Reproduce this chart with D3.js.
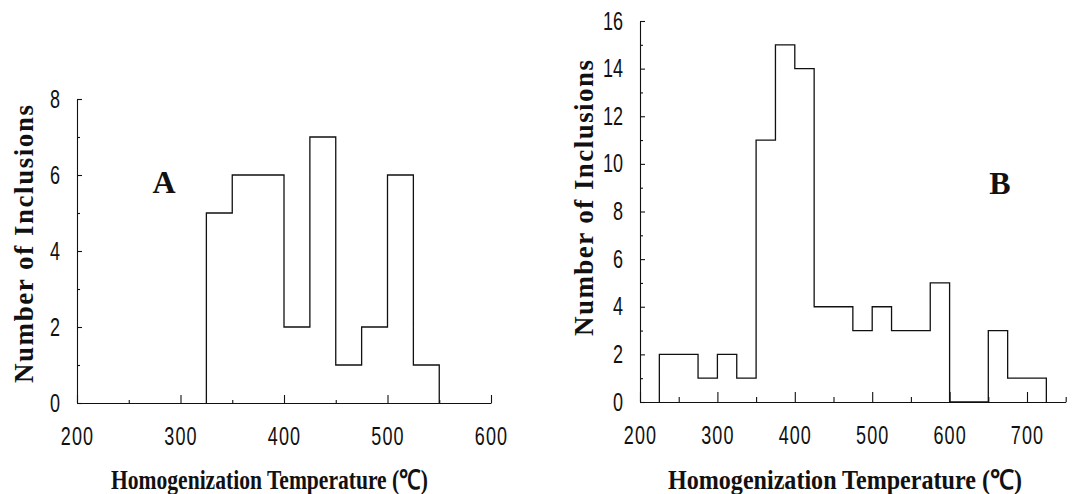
<!DOCTYPE html>
<html>
<head>
<meta charset="utf-8">
<script src="https://cdn.jsdelivr.net/npm/d3@7"></script>
<style>
  html, body { margin: 0; padding: 0; background: #fff; }
  svg { display: block; }
</style>
</head>
<body>
<svg id="chart" width="1086" height="494"></svg>
<script>
// ---------------- data ----------------
const binWidth = 25;
const binStartsA = [325, 350, 375, 400, 425, 450, 475, 500, 525];
const countsA    = [5, 6, 6, 2, 7, 1, 2, 6, 1];

const binStartsB = [225, 250, 275, 300, 325, 350, 375, 400, 425, 450, 475, 500, 525, 550, 575, 600, 625, 650, 675, 700];
const countsB    = [2, 2, 1, 2, 1, 11, 15, 14, 4, 4, 3, 4, 3, 3, 5, 0, 0, 3, 1, 1];

const xLabelsA = [200, 300, 400, 500, 600];
const xMinorA  = [250, 350, 450, 550];
const yLabelsA = [0, 2, 4, 6, 8];
const yMinorA  = [1, 3, 5, 7];

const xLabelsB = [200, 300, 400, 500, 600, 700];
const xMinorB  = [250, 350, 450, 550, 650, 750];
const yLabelsB = [0, 2, 4, 6, 8, 10, 12, 14, 16];
const yMinorB  = [1, 3, 5, 7, 9, 11, 13, 15];

const yTitle = "Number of Inclusions";
const xTitle = "Homogenization Temperature (\u2103)";

// ---------------- drawing ----------------
const svg = d3.select("#chart");
const ink = "#111";

function panel(cfg) {
  const x = d3.scaleLinear().domain(cfg.xDomain).range(cfg.xRange);
  const y = d3.scaleLinear().domain(cfg.yDomain).range(cfg.yRange);
  const g = svg.append("g");
  const y0 = cfg.yRange[0];
  const x0 = cfg.xRange[0];

  // x axis: minor ticks
  g.append("g").attr("transform", `translate(0,${y0})`)
    .call(d3.axisBottom(x).tickValues(cfg.xMinor).tickSize(-cfg.xMinorLen).tickSizeOuter(0).tickFormat(""))
    .call(a => a.select(".domain").remove());
  // x axis: major ticks + labels
  const xa = g.append("g").attr("transform", `translate(0,${y0})`)
    .call(d3.axisBottom(x).tickValues(cfg.xLabels).tickSize(-cfg.xMajorLen).tickSizeOuter(0).tickFormat(d3.format("d")));
  // y axis minor
  g.append("g").attr("transform", `translate(${x0},0)`)
    .call(d3.axisLeft(y).tickValues(cfg.yMinor).tickSize(-3).tickSizeOuter(0).tickFormat(""))
    .call(a => a.select(".domain").remove());
  const ya = g.append("g").attr("transform", `translate(${x0},0)`)
    .call(d3.axisLeft(y).tickValues(cfg.yLabels).tickSize(-5).tickSizeOuter(0).tickFormat(d3.format("d")));

  g.selectAll(".domain, .tick line").attr("stroke", ink).attr("stroke-width", 1.1);

  const sx = 0.72;
  xa.selectAll(".tick text")
    .attr("font-family", "'Liberation Sans', Arial, sans-serif")
    .attr("font-size", 25).attr("fill", ink)
    .attr("y", 42).attr("dy", 0)
    .attr("letter-spacing", 1.5)
    .attr("transform", `scale(${sx},1)`);
  ya.selectAll(".tick text")
    .attr("font-family", "'Liberation Sans', Arial, sans-serif")
    .attr("font-size", 25).attr("fill", ink)
    .attr("x", -17 / sx).attr("dy", "0.32em")
    .attr("transform", `scale(${sx},1)`);

  // histogram outline (step)
  const pts = [{ x: cfg.starts[0], y: 0 }];
  cfg.starts.forEach((s, i) => pts.push({ x: s, y: cfg.counts[i] }));
  pts.push({ x: cfg.starts[cfg.starts.length - 1] + binWidth, y: 0 });
  const line = d3.line().x(d => x(d.x)).y(d => y(d.y)).curve(d3.curveStepAfter);
  g.append("path").attr("d", line(pts))
    .attr("fill", "none").attr("stroke", ink).attr("stroke-width", 1.3);

  // panel letter
  g.append("text").attr("x", cfg.letterX).attr("y", cfg.letterY)
    .attr("text-anchor", "middle")
    .attr("font-family", "'Liberation Serif', 'Times New Roman', serif")
    .attr("font-weight", "bold").attr("font-size", 32).attr("fill", ink)
    .text(cfg.letter);

  // y title
  g.append("text")
    .attr("transform", `translate(${cfg.yTitleX},${cfg.yTitleY}) rotate(-90)`)
    .attr("text-anchor", "middle")
    .attr("font-family", "'Liberation Serif', 'Times New Roman', serif")
    .attr("font-weight", "bold").attr("font-size", 27).attr("fill", ink)
    .attr("textLength", cfg.yTitleLen).attr("lengthAdjust", "spacing")
    .text(yTitle);

  // x title
  g.append("text")
    .attr("x", cfg.xTitleX).attr("y", 489)
    .attr("font-family", "'Liberation Serif', 'Times New Roman', serif")
    .attr("font-weight", "bold").attr("font-size", 27).attr("fill", ink)
    .attr("textLength", cfg.xTitleLen).attr("lengthAdjust", "spacingAndGlyphs")
    .text(xTitle);
}

panel({
  xDomain: [200, 600], xRange: [77, 491],
  yDomain: [0, 8], yRange: [403, 99],
  xLabels: xLabelsA, xMinor: xMinorA, yLabels: yLabelsA, yMinor: yMinorA,
  xMajorLen: 8, xMinorLen: 3,
  starts: binStartsA, counts: countsA,
  letter: "A", letterX: 164, letterY: 193,
  yTitleX: 33, yTitleY: 244, yTitleLen: 278,
  xTitleX: 111, xTitleLen: 317
});

panel({
  xDomain: [200, 750], xRange: [640, 1065.7],
  yDomain: [0, 16], yRange: [402, 21],
  xLabels: xLabelsB, xMinor: xMinorB, yLabels: yLabelsB, yMinor: yMinorB,
  xMajorLen: 10, xMinorLen: 5,
  starts: binStartsB, counts: countsB,
  letter: "B", letterX: 1000, letterY: 194,
  yTitleX: 593, yTitleY: 198, yTitleLen: 276,
  xTitleX: 668, xTitleLen: 354
});
</script>
</body>
</html>
